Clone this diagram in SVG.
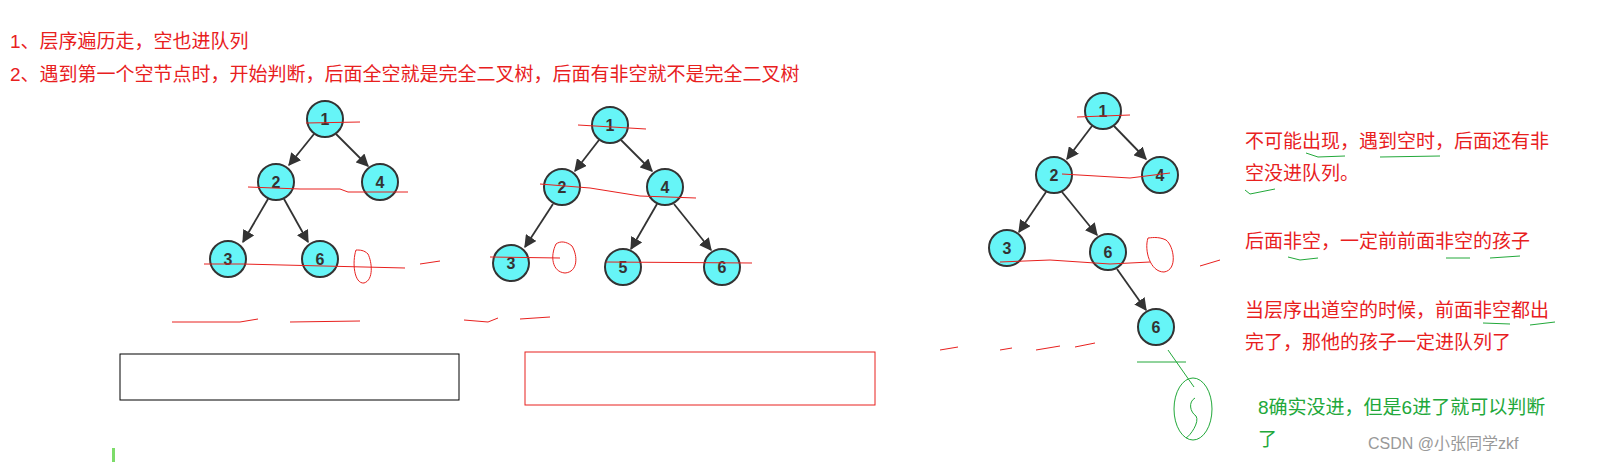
<svg xmlns="http://www.w3.org/2000/svg" width="1609" height="475" viewBox="0 0 1609 475">
<style>
.n circle{fill:#66f5f7;stroke:#333;stroke-width:2}
.n text{font-family:"Liberation Sans",sans-serif;font-weight:bold;font-size:16px;fill:#333;text-anchor:middle}
.e line{stroke:#333;stroke-width:1.8;marker-end:url(#a)}
.r{font-family:"Liberation Sans","Noto Sans CJK SC",sans-serif;font-size:19px;fill:#e8201e}
.g{font-family:"Liberation Sans","Noto Sans CJK SC",sans-serif;font-size:19px;fill:#22a83a}
.s{stroke:#e8201e;stroke-width:1;fill:none}
</style>
<defs><marker id="a" viewBox="0 0 10 10" refX="9" refY="5" markerWidth="7" markerHeight="7" orient="auto"><path d="M0,0L10,5L0,10z" fill="#333"/></marker></defs>
<rect width="1609" height="475" fill="#fff"/>
<text class="r" x="10" y="48">1、层序遍历走，空也进队列</text>
<text class="r" x="10" y="81">2、遇到第一个空节点时，开始判断，后面全空就是完全二叉树，后面有非空就不是完全二叉树</text>
<g class="e" id="edges">
<line x1="314" y1="134" x2="289" y2="165"/><line x1="336" y1="134" x2="368" y2="166"/>
<line x1="268" y1="199" x2="243" y2="242"/><line x1="284" y1="199" x2="308" y2="242"/>
<line x1="599" y1="140" x2="575" y2="171"/><line x1="621" y1="140" x2="652" y2="171"/>
<line x1="553" y1="204" x2="525" y2="247"/><line x1="657" y1="204" x2="631" y2="249"/>
<line x1="674" y1="204" x2="711" y2="250"/>
<line x1="1092" y1="126" x2="1067" y2="159"/><line x1="1114" y1="126" x2="1146" y2="159"/>
<line x1="1046" y1="192" x2="1019" y2="232"/><line x1="1062" y1="192" x2="1097" y2="235"/>
<line x1="1117" y1="269" x2="1146" y2="310"/>
</g>
<g class="n" id="t1n1"><circle cx="325" cy="119" r="18"/><text x="325" y="125">1</text></g>
<g class="n" id="t1n2"><circle cx="276" cy="182" r="18"/><text x="276" y="188">2</text></g>
<g class="n" id="t1n4"><circle cx="380" cy="182" r="18"/><text x="380" y="188">4</text></g>
<g class="n" id="t1n3"><circle cx="228" cy="259" r="18"/><text x="228" y="265">3</text></g>
<g class="n" id="t1n6"><circle cx="320" cy="259" r="18"/><text x="320" y="265">6</text></g>
<g class="n" id="t2n1"><circle cx="610" cy="125" r="18"/><text x="610" y="131">1</text></g>
<g class="n" id="t2n2"><circle cx="562" cy="187" r="18"/><text x="562" y="193">2</text></g>
<g class="n" id="t2n4"><circle cx="665" cy="187" r="18"/><text x="665" y="193">4</text></g>
<g class="n" id="t2n3"><circle cx="511" cy="263" r="18"/><text x="511" y="269">3</text></g>
<g class="n" id="t2n5"><circle cx="623" cy="267" r="18"/><text x="623" y="273">5</text></g>
<g class="n" id="t2n6"><circle cx="722" cy="267" r="18"/><text x="722" y="273">6</text></g>
<g class="n" id="t3n1"><circle cx="1103" cy="111" r="18"/><text x="1103" y="117">1</text></g>
<g class="n" id="t3n2"><circle cx="1054" cy="175" r="18"/><text x="1054" y="181">2</text></g>
<g class="n" id="t3n4"><circle cx="1160" cy="175" r="18"/><text x="1160" y="181">4</text></g>
<g class="n" id="t3n3"><circle cx="1007" cy="248" r="18"/><text x="1007" y="254">3</text></g>
<g class="n" id="t3n6"><circle cx="1108" cy="252" r="18"/><text x="1108" y="258">6</text></g>
<g class="n" id="t3n6b"><circle cx="1156" cy="327" r="18"/><text x="1156" y="333">6</text></g>
<g id="strokes">
<path class="s" d="M306,123L360,122M248,187L300,189L340,189L348,192L408,192M204,264L242,264L405,268M420,264L440,261M172,322L240,322L258,319M290,322L360,321M464,320L488,322L498,318M520,319L550,317"/>
<path class="s" d="M356,250C352,262 354,284 364,283C374,280 372,262 368,254C364,250 360,250 356,250Z"/>
<path class="s" d="M578,125L646,129M540,184L590,188L640,196L696,198M490,257L560,258M606,262L752,263M940,350L958,347M1000,350L1012,348M1036,350L1060,346M1075,347L1095,343"/>
<path class="s" d="M556,244C550,256 552,272 565,273C578,272 578,256 572,246C566,241 560,241 556,244Z"/>
<path class="s" d="M1077,117L1130,115M1062,174L1130,178L1170,173M1000,262L1050,260L1110,264L1150,262M1200,266L1220,260M1148,238C1144,250 1150,272 1164,272C1178,270 1174,246 1166,240C1158,236 1150,238 1148,238Z"/>
<path d="M1137,362L1186,362M1168,350L1194,387" stroke="#22a83a" stroke-width="1" fill="none"/>
<ellipse cx="1193" cy="409" rx="19" ry="31" stroke="#22a83a" fill="none"/>
<path d="M1195,398C1188,402 1190,412 1196,416C1200,422 1190,436 1186,438" stroke="#22a83a" fill="none"/>
<path d="M1306,153L1318,157L1345,156M1380,157L1440,156M1245,190L1250,194L1275,189M1288,257L1300,260L1318,258M1446,258L1470,258M1490,258L1520,256M1483,323L1510,324M1530,325L1555,322" stroke="#22a83a" fill="none"/>
</g>
<rect x="120" y="354" width="339" height="46" fill="none" stroke="#000"/>
<rect x="525" y="352" width="350" height="53" fill="none" stroke="#e8201e"/>
<rect x="112" y="448" width="3" height="14" fill="#7ddc6a"/>
<text class="r" x="1245" y="148">不可能出现，遇到空时，后面还有非</text>
<text class="r" x="1245" y="180">空没进队列。</text>
<text class="r" x="1245" y="248">后面非空，一定前前面非空的孩子</text>
<text class="r" x="1245" y="317">当层序出道空的时候，前面非空都出</text>
<text class="r" x="1245" y="349">完了，那他的孩子一定进队列了</text>
<text class="g" x="1258" y="414">8确实没进，但是6进了就可以判断</text>
<text class="g" x="1258" y="446">了</text>
<text x="1368" y="449" style="font-family:'Liberation Sans','Noto Sans CJK SC',sans-serif;font-size:16px;fill:#999">CSDN @小张同学zkf</text>
</svg>
